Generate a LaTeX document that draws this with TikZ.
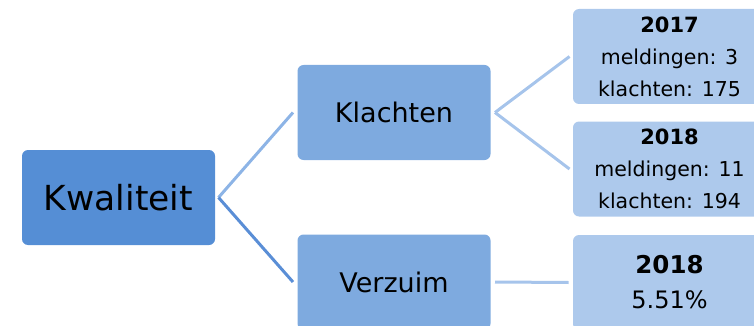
\documentclass[tikz,border=0pt]{standalone}
\usepackage{fontspec}
\setmainfont{DejaVu Sans}
\definecolor{kwal}{HTML}{558ED5}
\definecolor{mid}{HTML}{7EAADF}
\definecolor{leaf}{HTML}{ADC9EC}
\definecolor{lineA}{HTML}{8DB4E6}
\definecolor{lineB}{HTML}{5A8ED6}
\definecolor{lineC}{HTML}{A6C4EB}

\begin{document}
\begin{tikzpicture}[x=1pt, y=-1pt, line width=3pt,
  box/.style={rectangle, rounded corners=6pt, minimum width=193pt, minimum height=95pt, inner sep=0pt, align=center},
  topbox/.style={box, fill=kwal, font=\fontsize{34.5}{40}\selectfont},
  midbox/.style={box, fill=mid, font=\fontsize{27}{32}\selectfont},
  leafbox/.style={box, fill=leaf, font=\fontsize{20.5}{32}\selectfont},
  bigleaf/.style={box, fill=leaf, font=\fontsize{24}{35}\selectfont}]
\useasboundingbox (0,0) rectangle (754,326);
\clip (0,0) rectangle (754,326);

\node [topbox] (k) at (118.5,197.5) {Kwaliteit};
\node [midbox] (kl) at (394,112.5) {Klachten};
\node [midbox] (vz) at (394,282) {Verzuim};
\node [leafbox] (j1) at (669.5,56.5) {{\fontsize{21}{32}\selectfont\bfseries 2017}\\meldingen: 3\\klachten: 175};
\node [leafbox] (j2) at (669.5,169) {{\fontsize{21}{32}\selectfont\bfseries 2018}\\meldingen: 11\\klachten: 194};
\node [bigleaf] (v1) at (669.5,282.5) {{\fontsize{24.5}{35}\selectfont\bfseries 2018}\\5.51\%};

\draw[lineA] ([xshift=2pt]k.east) -- ([xshift=-3pt]kl.west);
\draw[lineB] ([xshift=2pt]k.east) -- ([xshift=-3pt]vz.west);
\draw[lineC] ([xshift=3pt]kl.east) -- ([xshift=-2pt]j1.west);
\draw[lineC] ([xshift=3pt]kl.east) -- ([xshift=-2pt]j2.west);
\draw[lineC] ([xshift=3pt]vz.east) -- ([xshift=-3pt]v1.west);
\end{tikzpicture}
\end{document}
